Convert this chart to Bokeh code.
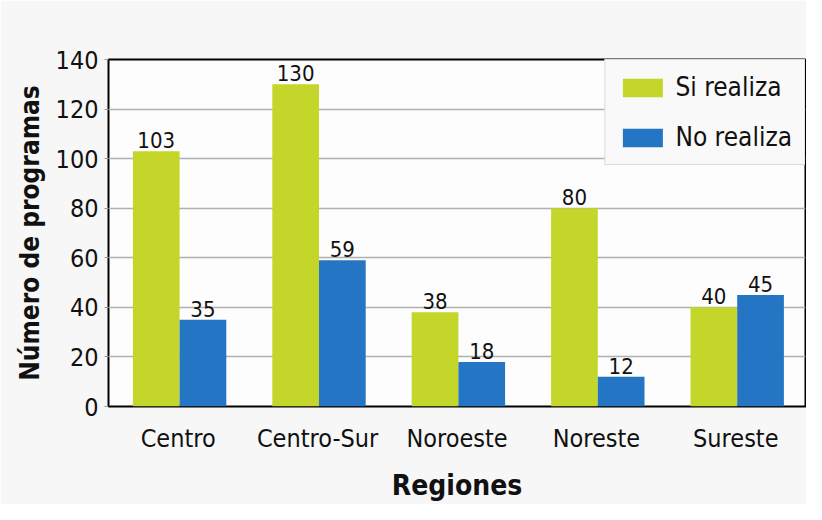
from bokeh.plotting import figure
from bokeh.models import ColumnDataSource, FactorRange, Range1d, Legend, LegendItem, LabelSet
from bokeh.transform import dodge
from bokeh.core.properties import value
from bokeh.embed import file_html
from bokeh.resources import INLINE

regiones = ["Centro", "Centro-Sur", "Noroeste", "Noreste", "Sureste"]
si_realiza = [103, 130, 38, 80, 40]
no_realiza = [35, 59, 18, 12, 45]
y_ticks = [0, 20, 40, 60, 80, 100, 120, 140]

FONT = "DejaVu Sans Condensed"
GREEN = "#c5d62a"
BLUE = "#2475c3"

src = ColumnDataSource(dict(
    x=regiones, si=si_realiza, no=no_realiza,
    si_lbl=[str(v) for v in si_realiza], no_lbl=[str(v) for v in no_realiza],
))

p = figure(x_range=FactorRange(*regiones), y_range=Range1d(0, 140),
           width=806, height=504, output_backend="svg", toolbar_location=None,
           min_border_left=108, min_border_right=1, min_border_top=59, min_border_bottom=94)

p.background_fill_color = "#fdfdfd"
p.border_fill_color = "#f7f7f7"
p.outline_line_color = "black"
p.outline_line_width = 2

bw = 0.335
r1 = p.vbar(x=dodge("x", -bw / 2 + 0.01, range=p.x_range), top="si", width=bw, source=src,
            fill_color=GREEN, line_color=None)
r2 = p.vbar(x=dodge("x", bw / 2 + 0.01, range=p.x_range), top="no", width=bw, source=src,
            fill_color=BLUE, line_color=None)

for col, lbl, off in (("si", "si_lbl", -bw / 2 + 0.01), ("no", "no_lbl", bw / 2 + 0.01)):
    p.add_layout(LabelSet(x=dodge("x", off, range=p.x_range), y=col, text=lbl, source=src,
                          text_align="center", text_baseline="bottom", y_offset=3,
                          text_font=value(FONT), text_font_size="22px", text_color="#111111"))

p.yaxis.ticker = y_ticks
p.yaxis.axis_line_color = None
p.yaxis.major_tick_line_color = "#999999"
p.yaxis.major_tick_out = 4
p.yaxis.major_tick_in = 0
p.yaxis.minor_tick_line_color = None
p.yaxis.major_label_text_font = FONT
p.yaxis.major_label_text_font_size = "25px"
p.yaxis.major_label_text_color = "#111111"
p.yaxis.major_label_standoff = 6
p.yaxis.axis_label = "Número de programas"
p.yaxis.axis_label_text_font = FONT
p.yaxis.axis_label_text_font_style = "bold"
p.yaxis.axis_label_text_font_size = "26px"
p.yaxis.axis_label_text_color = "#111111"
p.yaxis.axis_label_standoff = 8

p.xaxis.axis_line_color = None
p.xaxis.major_tick_line_color = None
p.xaxis.minor_tick_line_color = None
p.xaxis.major_label_text_font = FONT
p.xaxis.major_label_text_font_size = "25px"
p.xaxis.major_label_text_color = "#111111"
p.xaxis.major_label_standoff = 11
p.xaxis.axis_label = "Regiones"
p.xaxis.axis_label_text_font = FONT
p.xaxis.axis_label_text_font_style = "bold"
p.xaxis.axis_label_text_font_size = "28px"
p.xaxis.axis_label_text_color = "#111111"
p.xaxis.axis_label_standoff = 13

p.xgrid.grid_line_color = None
p.ygrid.grid_line_color = "#b0b0b0"
p.ygrid.grid_line_width = 1.5

legend = Legend(items=[LegendItem(label="Si realiza", renderers=[r1]),
                       LegendItem(label="No realiza", renderers=[r2])],
                location="top_right", margin=0, padding=12, spacing=20,
                glyph_width=50, glyph_height=23, label_standoff=8,
                label_text_font=FONT, label_text_font_size="26px", label_text_color="#111111",
                border_line_color="#bbbbbb", border_line_width=1,
                background_fill_color="#f9f9f9", background_fill_alpha=1)
p.add_layout(legend)

open("out.html", "w").write(file_html(p, INLINE))
